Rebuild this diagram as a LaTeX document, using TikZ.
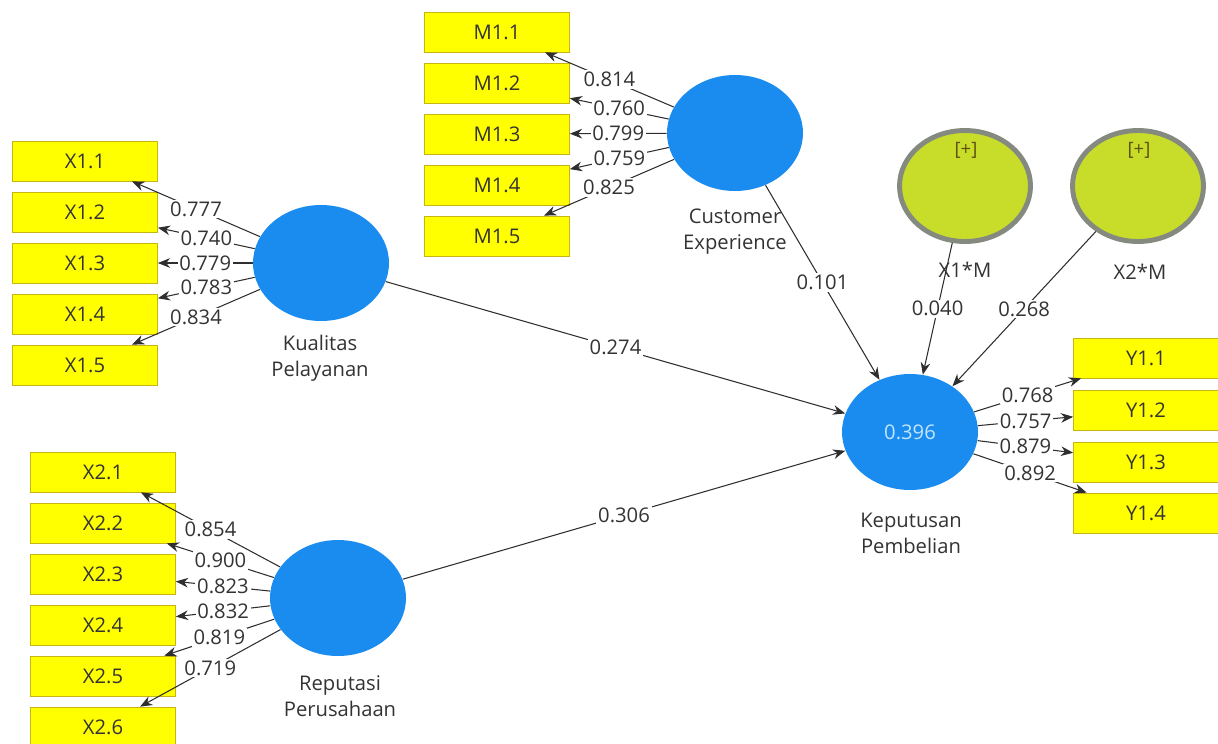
\documentclass[tikz,border=0pt]{standalone}
\usepackage{fontspec}
\setmainfont{Open Sans}
\usetikzlibrary{shapes.geometric,arrows.meta}

\definecolor{indyellow}{HTML}{FFFF00}
\definecolor{boxedge}{HTML}{C8B414}
\definecolor{latblue}{HTML}{1A8CF0}
\definecolor{modgreen}{HTML}{C8DC2A}
\definecolor{modedge}{HTML}{858A80}
\definecolor{txtgray}{HTML}{333333}
\definecolor{linegray}{HTML}{2E2E2E}
\definecolor{paleblue}{HTML}{C4E6FF}
\definecolor{plusolive}{HTML}{5E5010}

\tikzset{
  ind/.style={draw=boxedge, fill=indyellow, minimum width=2.9cm, minimum height=0.8cm,
    inner sep=0pt, text=txtgray, font=\fontsize{11.5}{14}\selectfont},
  lat/.style={ellipse, fill=latblue, minimum width=2.72cm, minimum height=2.32cm,
    inner sep=0pt, font=\fontsize{11.5}{14}\selectfont},
  modr/.style={ellipse, draw=modedge, line width=2.8pt, fill=modgreen,
    minimum width=2.62cm, minimum height=2.22cm, inner sep=0pt},
  varname/.style={text=txtgray, align=center, font=\fontsize{11.5}{14.8}\selectfont},
  coef/.style={fill=white, inner sep=1pt, text=txtgray, font=\fontsize{11.5}{14}\selectfont},
  link/.style={->, draw=linegray, line width=0.6pt},
  >={Stealth[length=7pt,width=5.5pt]}
}

\begin{document}
\begin{tikzpicture}[x=0.02cm,y=-0.02cm]

\useasboundingbox (0,0) rectangle (1218,744);

% latent variables
\node[lat] (KL) at (321,263) {};
\node[lat] (CE) at (735,133) {};
\node[lat] (RP) at (338,598) {};
\node[lat, text=paleblue] (KP) at (910,432) {0.396};
\node[modr] (X1M) at (965,186) {};
\node[modr] (X2M) at (1138,186) {};

\node[text=plusolive, font=\fontsize{10.5}{12}\selectfont] (X1Mp) at (966,150) {[+]};
\node[text=plusolive, font=\fontsize{10.5}{12}\selectfont] (X2Mp) at (1139,150) {[+]};

\node[varname] (KLname) at (320,358) {Kualitas\\Pelayanan};
\node[varname] (CEname) at (735,232) {Customer\\Experience};
\node[varname] (RPname) at (340,696) {Reputasi\\Perusahaan};
\node[varname] (KPname) at (911,533) {Keputusan\\Pembelian};
\node[varname] (X1Mname) at (965,270) {X1*M};
\node[varname] (X2Mname) at (1140,272) {X2*M};

% indicators
\node[ind] (X11) at (85,161) {X1.1};
\node[ind] (X12) at (85,212) {X1.2};
\node[ind] (X13) at (85,263) {X1.3};
\node[ind] (X14) at (85,314) {X1.4};
\node[ind] (X15) at (85,365) {X1.5};

\node[ind] (M11) at (497,32) {M1.1};
\node[ind] (M12) at (497,83) {M1.2};
\node[ind] (M13) at (497,134) {M1.3};
\node[ind] (M14) at (497,185) {M1.4};
\node[ind] (M15) at (497,236) {M1.5};

\node[ind] (X21) at (103,472) {X2.1};
\node[ind] (X22) at (103,523) {X2.2};
\node[ind] (X23) at (103,574) {X2.3};
\node[ind] (X24) at (103,625) {X2.4};
\node[ind] (X25) at (103,676) {X2.5};
\node[ind] (X26) at (103,727) {X2.6};

\node[ind] (Y11) at (1146,358) {Y1.1};
\node[ind] (Y12) at (1146,410) {Y1.2};
\node[ind] (Y13) at (1146,462) {Y1.3};
\node[ind] (Y14) at (1146,513) {Y1.4};

% outer loadings
\draw[link] (KL) -- node[coef]{0.777} (X11);
\draw[link] (KL) -- node[coef]{0.740} (X12);
\draw[link] (KL) -- node[coef]{0.779} (X13);
\draw[link] (KL) -- node[coef]{0.783} (X14);
\draw[link] (KL) -- node[coef]{0.834} (X15);

\draw[link] (CE) -- node[coef]{0.814} (M11);
\draw[link] (CE) -- node[coef]{0.760} (M12);
\draw[link] (CE) -- node[coef]{0.799} (M13);
\draw[link] (CE) -- node[coef]{0.759} (M14);
\draw[link] (CE) -- node[coef]{0.825} (M15);

\draw[link] (RP) -- node[coef]{0.854} (X21);
\draw[link] (RP) -- node[coef]{0.900} (X22);
\draw[link] (RP) -- node[coef]{0.823} (X23);
\draw[link] (RP) -- node[coef]{0.832} (X24);
\draw[link] (RP) -- node[coef]{0.819} (X25);
\draw[link] (RP) -- node[coef]{0.719} (X26);

\draw[link] (KP) -- node[coef]{0.768} (Y11);
\draw[link] (KP) -- node[coef]{0.757} (Y12);
\draw[link] (KP) -- node[coef]{0.879} (Y13);
\draw[link] (KP) -- node[coef]{0.892} (Y14);

% path coefficients
\draw[link] (KL) -- node[coef]{0.274} (KP);
\draw[link] (RP) -- node[coef]{0.306} (KP);
\draw[link] (CE) -- node[coef]{0.101} (KP);
\draw[link] (X1M) -- node[coef]{0.040} (KP);
\draw[link] (X2M) -- node[coef]{0.268} (KP);

\end{tikzpicture}
\end{document}
